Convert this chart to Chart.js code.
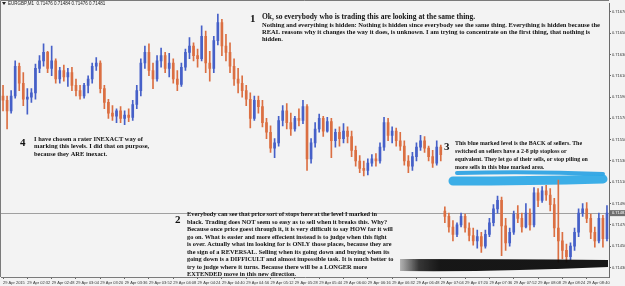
<!DOCTYPE html>
<html>
<head>
<meta charset="utf-8">
<script src="https://cdn.jsdelivr.net/npm/chart.js@4.4.1/dist/chart.umd.min.js"></script>
<style>
html, body { margin: 0; padding: 0; background: #f3f3f3; }
</style>
</head>
<body>
<canvas id="Chart" width="625" height="286"></canvas>
<script>
// EURGBP M1 candles
const headerText = 'EURGBP,M1  0.71476 0.71484 0.71476 0.71481';
const lastPrice = 0.71481;

const opens = [
  0.71591,0.71587,0.71577,0.71591,0.71619,0.71603,0.71588,0.71590,0.71594,0.71617,
  0.71624,0.71632,0.71617,0.71624,0.71607,0.71615,0.71609,0.71613,0.71601,0.71596,
  0.71591,0.71601,0.71607,0.71619,0.71622,0.71598,0.71585,0.71575,0.71572,0.71577,
  0.71570,0.71573,0.71571,0.71583,0.71596,0.71622,0.71632,0.71615,0.71607,0.71624,
  0.71629,0.71617,0.71622,0.71607,0.71602,0.71618,0.71632,0.71638,0.71629,0.71626,
  0.71647,0.71622,0.71617,0.71643,0.71660,0.71638,0.71632,0.71619,0.71607,0.71603,
  0.71596,0.71588,0.71570,0.71587,0.71581,0.71566,0.71557,0.71542,0.71547,0.71568,
  0.71577,0.71566,0.71560,0.71570,0.71568,0.71581,0.71532,0.71547,0.71560,0.71570,
  0.71558,0.71567,0.71549,0.71557,0.71551,0.71558,0.71553,0.71540,0.71530,0.71523,
  0.71521,0.71528,0.71532,0.71530,0.71543,0.71566,0.71554,0.71558,0.71549,0.71544,
  0.71530,0.71525,0.71534,0.71543,0.71549,0.71542,0.71534,0.71528,0.71543,0.71483,
  0.71478,0.71468,0.71461,0.71470,0.71478,0.71467,0.71460,0.71455,0.71459,0.71450,
  0.71461,0.71472,0.71485,0.71493,0.71469,0.71453,0.71463,0.71480,0.71476,0.71468,
  0.71481,0.71470,0.71500,0.71493,0.71502,0.71498,0.71489,0.71467,0.71455,0.71446,
  0.71440,0.71450,0.71463,0.71481,0.71485,0.71476,0.71463,0.71455,0.71476,0.71457
];
const highs = [
  0.71601,0.71591,0.71596,0.71624,0.71622,0.71613,0.71598,0.71598,0.71621,0.71629,
  0.71640,0.71633,0.71638,0.71626,0.71618,0.71620,0.71617,0.71618,0.71607,0.71601,
  0.71603,0.71610,0.71622,0.71627,0.71624,0.71601,0.71588,0.71582,0.71579,0.71581,
  0.71577,0.71579,0.71587,0.71601,0.71626,0.71638,0.71640,0.71622,0.71629,0.71636,
  0.71632,0.71631,0.71626,0.71615,0.71622,0.71635,0.71646,0.71641,0.71635,0.71657,
  0.71652,0.71633,0.71647,0.71668,0.71663,0.71649,0.71641,0.71626,0.71617,0.71610,
  0.71601,0.71594,0.71591,0.71591,0.71587,0.71570,0.71563,0.71551,0.71572,0.71582,
  0.71584,0.71575,0.71572,0.71579,0.71587,0.71583,0.71551,0.71566,0.71574,0.71572,
  0.71571,0.71570,0.71560,0.71562,0.71565,0.71562,0.71558,0.71544,0.71535,0.71530,
  0.71532,0.71536,0.71537,0.71547,0.71571,0.71570,0.71562,0.71561,0.71557,0.71549,
  0.71535,0.71538,0.71547,0.71554,0.71553,0.71544,0.71540,0.71549,0.71545,0.71487,
  0.71481,0.71474,0.71472,0.71481,0.71480,0.71472,0.71467,0.71465,0.71463,0.71465,
  0.71476,0.71489,0.71497,0.71496,0.71476,0.71467,0.71483,0.71488,0.71481,0.71490,
  0.71485,0.71505,0.71504,0.71506,0.71507,0.71504,0.71495,0.71512,0.71463,0.71452,
  0.71453,0.71467,0.71485,0.71490,0.71491,0.71480,0.71468,0.71481,0.71479,0.71488
];
const lows = [
  0.71577,0.71560,0.71575,0.71589,0.71596,0.71582,0.71574,0.71585,0.71588,0.71613,
  0.71619,0.71613,0.71610,0.71603,0.71603,0.71605,0.71600,0.71596,0.71591,0.71588,
  0.71589,0.71594,0.71603,0.71615,0.71594,0.71579,0.71570,0.71568,0.71566,0.71566,
  0.71564,0.71567,0.71568,0.71579,0.71591,0.71617,0.71610,0.71598,0.71605,0.71618,
  0.71613,0.71609,0.71603,0.71596,0.71600,0.71615,0.71626,0.71624,0.71618,0.71624,
  0.71613,0.71605,0.71613,0.71639,0.71629,0.71624,0.71613,0.71601,0.71594,0.71590,
  0.71582,0.71561,0.71568,0.71575,0.71562,0.71551,0.71538,0.71533,0.71544,0.71563,
  0.71560,0.71554,0.71558,0.71563,0.71565,0.71521,0.71528,0.71543,0.71557,0.71553,
  0.71557,0.71533,0.71543,0.71544,0.71547,0.71547,0.71534,0.71525,0.71519,0.71516,
  0.71517,0.71525,0.71525,0.71528,0.71540,0.71549,0.71547,0.71544,0.71540,0.71526,
  0.71519,0.71521,0.71530,0.71540,0.71538,0.71530,0.71524,0.71526,0.71530,0.71472,
  0.71463,0.71455,0.71459,0.71468,0.71463,0.71455,0.71451,0.71448,0.71444,0.71448,
  0.71459,0.71469,0.71481,0.71441,0.71446,0.71450,0.71461,0.71472,0.71463,0.71467,
  0.71465,0.71468,0.71487,0.71491,0.71493,0.71483,0.71459,0.71435,0.71438,0.71435,
  0.71437,0.71446,0.71459,0.71478,0.71472,0.71457,0.71449,0.71453,0.71449,0.71455
];
const closes = [
  0.71587,0.71577,0.71591,0.71619,0.71603,0.71588,0.71590,0.71594,0.71617,0.71624,
  0.71632,0.71617,0.71624,0.71607,0.71615,0.71609,0.71613,0.71601,0.71596,0.71591,
  0.71601,0.71607,0.71619,0.71622,0.71598,0.71585,0.71575,0.71572,0.71577,0.71570,
  0.71573,0.71571,0.71583,0.71596,0.71622,0.71632,0.71615,0.71607,0.71624,0.71629,
  0.71617,0.71622,0.71607,0.71602,0.71618,0.71632,0.71638,0.71629,0.71626,0.71647,
  0.71622,0.71617,0.71643,0.71660,0.71638,0.71632,0.71619,0.71607,0.71603,0.71596,
  0.71588,0.71570,0.71587,0.71581,0.71566,0.71557,0.71542,0.71547,0.71568,0.71577,
  0.71566,0.71560,0.71570,0.71568,0.71581,0.71532,0.71547,0.71560,0.71570,0.71558,
  0.71567,0.71549,0.71557,0.71551,0.71558,0.71553,0.71540,0.71530,0.71523,0.71521,
  0.71528,0.71532,0.71530,0.71543,0.71566,0.71554,0.71558,0.71549,0.71544,0.71530,
  0.71525,0.71534,0.71543,0.71549,0.71542,0.71534,0.71528,0.71543,0.71536,0.71478,
  0.71468,0.71461,0.71470,0.71478,0.71467,0.71460,0.71455,0.71459,0.71450,0.71461,
  0.71472,0.71485,0.71493,0.71469,0.71453,0.71463,0.71480,0.71476,0.71468,0.71481,
  0.71470,0.71500,0.71493,0.71502,0.71498,0.71489,0.71467,0.71455,0.71446,0.71440,
  0.71450,0.71463,0.71481,0.71485,0.71476,0.71463,0.71455,0.71476,0.71457,0.71481
];

// one time label every 6 bars
const timeLabels = ['29 Apr 2015', '29 Apr 02:32', '29 Apr 02:48', '29 Apr 03:04', '29 Apr 03:20',
  '29 Apr 03:36', '29 Apr 03:52', '29 Apr 04:08', '29 Apr 04:24', '29 Apr 04:40', '29 Apr 04:56',
  '29 Apr 05:12', '29 Apr 05:28', '29 Apr 05:44', '29 Apr 06:00', '29 Apr 06:16', '29 Apr 06:32',
  '29 Apr 06:48', '29 Apr 07:04', '29 Apr 07:20', '29 Apr 07:36', '29 Apr 07:52', '29 Apr 08:08',
  '29 Apr 08:24', '29 Apr 08:40'];
const priceTicks = [0.7143, 0.7145, 0.7147, 0.7149, 0.7151, 0.7153, 0.7155, 0.7157,
  0.7159, 0.7161, 0.7163, 0.7165, 0.7167];

const note1Title = 'Ok, so everybody who is trading this are looking at the same thing.';
const note1 = [
  'Nothing and everything is hidden: Nothing is hidden since everybody see the same thing. Everything is hidden because the',
  'REAL reasons why it changes the way it does, is unknown. I am trying to concentrate on the first thing, that nothing is',
  'hidden.'
];
const note2 = [
  'Everybody can see that price sort of stops here at the level I marked in',
  'black. Trading does NOT seem so easy as to sell when it breaks this. Why?',
  'Because once price goest through it, it is very difficult to say HOW far it will',
  'go on. What is easier and more effecient instead is to judge when this fight',
  'is over. Actually what im looking for is ONLY those places, because they are',
  'the sign of a REVERSAL. Selling when its going down and buying when its',
  'going down is a DIFFICULT and almost impossible task. It is much better to',
  'try to judge where it turns. Because there will be a LONGER more',
  'EXTENDED move in this new direction.'
];
const note3 = [
  'This blue marked level is the BACK of sellers. The',
  'switched on sellers have a 2-8 pip stoploss or',
  'equivalent. They let go of their sells, or stop piling on',
  'more sells in this blue marked area.'
];
const note4 = [
  'I have chosen a rater INEXACT way of',
  'marking this levels. I did that on purpose,',
  'because they ARE inexact.'
];

const bull = '#4660c8';
const bear = '#db6f42';
const colors = closes.map((c, i) => c >= opens[i] ? bull : bear);

function textBlock(ctx, lines, x, y, lh, size, fitWidth) {
    ctx.font = 'bold ' + size + 'px "Liberation Serif"';
    const sx = fitWidth / ctx.measureText(lines[0]).width;
    ctx.save();
    ctx.translate(x, y);
    ctx.scale(sx, 1);
    lines.forEach((t, k) => ctx.fillText(t, 0, k * lh));
    ctx.restore();
}

const overlay = {
    id: 'overlay',
    beforeDatasetsDraw(chart) {
        const ctx = chart.ctx, a = chart.chartArea;
        const y = chart.scales.y;
        ctx.save();
        // bid line
        const py = Math.round(y.getPixelForValue(lastPrice)) + 0.5;
        ctx.strokeStyle = '#a0a0a0';
        ctx.lineWidth = 1;
        ctx.beginPath(); ctx.moveTo(a.left, py); ctx.lineTo(a.right, py); ctx.stroke();
        // blue highlighter strokes
        ctx.lineCap = 'round';
        ctx.strokeStyle = 'rgba(38,160,226,0.9)';
        ctx.lineWidth = 4;
        ctx.beginPath(); ctx.moveTo(457, 173); ctx.quadraticCurveTo(530, 171, 603, 174); ctx.stroke();
        ctx.lineWidth = 9;
        ctx.strokeStyle = 'rgba(45,168,230,0.92)';
        ctx.beginPath(); ctx.moveTo(453, 181); ctx.quadraticCurveTo(530, 181, 603, 179); ctx.stroke();
        ctx.restore();
    },
    afterDraw(chart) {
        const ctx = chart.ctx, a = chart.chartArea;
        const y = chart.scales.y;
        ctx.save();
        // black marker
        const g = ctx.createLinearGradient(398, 0, 440, 0);
        g.addColorStop(0, 'rgba(40,40,40,0.25)');
        g.addColorStop(0.5, 'rgba(20,20,20,0.85)');
        g.addColorStop(1, 'rgba(10,10,10,0.95)');
        ctx.fillStyle = g;
        ctx.beginPath();
        ctx.moveTo(400, 259);
        ctx.quadraticCurveTo(500, 259, 608, 260);
        ctx.lineTo(608, 267);
        ctx.quadraticCurveTo(500, 272, 400, 271);
        ctx.closePath();
        ctx.fill();

        // frame
        ctx.strokeStyle = '#7a7a7a';
        ctx.lineWidth = 1;
        ctx.beginPath();
        ctx.moveTo(0.5, a.bottom); ctx.lineTo(0.5, 0.5); ctx.lineTo(a.right, 0.5);
        ctx.stroke();

        // current price box on the axis
        const py = y.getPixelForValue(lastPrice);
        ctx.fillStyle = '#6f6f6f';
        ctx.fillRect(a.right + 1, py - 3, 15, 6);
        ctx.fillStyle = '#ffffff';
        ctx.font = '4px "Liberation Sans"';
        ctx.textBaseline = 'middle';
        ctx.fillText(lastPrice.toFixed(5), a.right + 3, py);

        // header
        ctx.fillStyle = '#222';
        ctx.beginPath(); ctx.moveTo(2, 2); ctx.lineTo(6, 2); ctx.lineTo(4, 5); ctx.closePath(); ctx.fill();
        ctx.font = '4.5px "Liberation Sans"';
        ctx.fillText(headerText, 8, 4);

        // notes
        ctx.fillStyle = '#111';
        ctx.font = 'bold 11px "Liberation Serif"';
        ctx.fillText('1', 250, 19);
        ctx.fillText('4', 20, 143);
        ctx.fillText('3', 444, 147);
        ctx.fillText('2', 175, 220);
        textBlock(ctx, [note1Title], 262, 17, 8, 8, 213);
        textBlock(ctx, note1, 262, 25.5, 7, 6.6, 338);
        textBlock(ctx, note4, 34, 139, 7.5, 6.6, 109);
        textBlock(ctx, note3, 455, 143, 8, 6.6, 127);
        textBlock(ctx, note2, 187, 214.3, 7.55, 6.6, 190);
        ctx.restore();
    }
};

new Chart(document.getElementById('Chart'), {
    type: 'bar',
    data: {
        labels: closes.map((c, i) => i),
        datasets: [{
            data: lows.map((l, i) => [l, highs[i]]),
            backgroundColor: colors,
            barThickness: 1,
            grouped: false,
            order: 2
        }, {
            data: opens.map((o, i) => [o, closes[i]]),
            backgroundColor: colors,
            barThickness: 2,
            minBarLength: 1,
            grouped: false,
            order: 1
        }]
    },
    options: {
        responsive: false,
        animation: false,
        devicePixelRatio: 1,
        layout: { padding: { left: 1, top: 2, right: 0, bottom: 0 } },
        plugins: { legend: { display: false }, tooltip: { enabled: false } },
        scales: {
            x: {
                offset: true,
                afterBuildTicks: (s) => { s.ticks = s.ticks.filter(t => t.value % 6 === 0); },
                afterFit: (s) => { s.height = 9; },
                grid: { display: true, offset: false, drawOnChartArea: false, tickLength: 2, color: '#666' },
                border: { color: '#7a7a7a' },
                ticks: {
                    autoSkip: false,
                    maxRotation: 0,
                    align: 'start',
                    padding: 1,
                    color: '#333',
                    font: { size: 4, family: 'Liberation Sans' },
                    callback: (v) => timeLabels[v / 6]
                }
            },
            y: {
                position: 'right',
                min: 0.71421,
                max: 0.71678,
                afterBuildTicks: (s) => { s.ticks = priceTicks.map(v => ({ value: v })); },
                afterFit: (s) => { s.width = 16; },
                grid: { display: true, drawOnChartArea: false, tickLength: 2, color: '#666' },
                border: { color: '#6a6a6a' },
                ticks: {
                    padding: 1,
                    color: '#333',
                    font: { size: 4, family: 'Liberation Sans' },
                    callback: (v) => v.toFixed(5)
                }
            }
        }
    },
    plugins: [overlay]
});
</script>
</body>
</html>
